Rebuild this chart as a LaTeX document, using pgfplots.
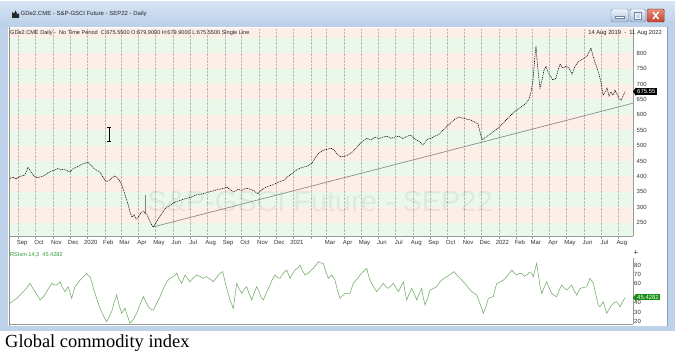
\documentclass[border=0pt]{standalone}
\usepackage{pgfplots}
\pgfplotsset{compat=1.18}
\usepackage{fontspec}
\setmainfont{Liberation Sans}
\newfontfamily\seriffont{Liberation Serif}
\definecolor{bandpink}{RGB}{253,238,232}
\definecolor{bandgreen}{RGB}{234,248,236}
\definecolor{rsigreen}{RGB}{112,172,100}
\definecolor{lblgreen}{RGB}{50,150,50}
\definecolor{boxgreen}{RGB}{20,140,20}
\definecolor{frameblue}{RGB}{190,210,234}
\definecolor{tbtop}{RGB}{214,228,244}
\definecolor{tbbot}{RGB}{186,206,232}
\definecolor{btnbot}{RGB}{168,190,220}
\definecolor{btnedge}{RGB}{110,130,165}
\definecolor{closetop}{RGB}{228,140,118}
\definecolor{closebot}{RGB}{196,68,50}

\begin{document}
\begin{tikzpicture}[x=1bp,y=1bp]
% canvas
\fill[white] (0,0) rectangle (675,354);
% window frame
\fill[frameblue] (0,23) rectangle (675,328);
\fill[white] (8,28.5) rectangle (667,327);
\shade[top color=tbtop, bottom color=tbbot] (0,327) rectangle (675,352);
\draw[black!45, line width=0.5bp] (9,28.5) -- (9,327);
\draw[btnedge!80, line width=0.4bp] (666.8,28.5) -- (666.8,327);
% title icon and text
\fill[black!85] (12,336) -- (12,342) -- (14,340.5) -- (15.5,343.5) -- (17.5,339.5) -- (19,341) -- (19,336) -- cycle;
\node[anchor=west, inner sep=0, font=\fontsize{6}{7}\selectfont, text=black!85] at (20.5,340) {GDe2.CME - S\&P-GSCI Future - SEP22 - Daily};
% window buttons
\shadedraw[top color=white!75!frameblue, bottom color=btnbot, draw=btnedge, rounded corners=1.5bp, line width=0.4bp] (611,332) rectangle (628.5,345);
\draw[white, line width=1.6bp] (615.5,336.5) -- (624,336.5);
\draw[btnedge, line width=0.3bp] (615.5,335.6) rectangle (624,337.4);
\shadedraw[top color=white!75!frameblue, bottom color=btnbot, draw=btnedge, rounded corners=1.5bp, line width=0.4bp] (630,332) rectangle (645.5,345);
\draw[white, line width=1bp] (635,335) rectangle (640.5,341.5);
\draw[btnedge, line width=0.3bp] (634.4,334.4) rectangle (641.1,342.1);
\shadedraw[top color=closetop, bottom color=closebot, draw=closebot!60!black, rounded corners=1.5bp, line width=0.4bp] (647,332) rectangle (664.5,345);
\draw[white, line width=1.4bp] (653,335) -- (658.5,342) (653,342) -- (658.5,335);

% ---------------- main price panel ----------------
\begin{axis}[
  clip=false,
  at={(10bp,118bp)}, anchor=south west, scale only axis,
  width=623bp, height=208bp,
  xmin=10, xmax=633, ymin=206.8, ymax=882.1,
  axis x line*=bottom, axis y line*=right,
  axis line style={draw=gray!80, line width=0.5bp},
  axis on top,
  xtick={18.6,35.5,52.9,69.8,87.3,104.8,121.1,138.5,155.4,172.9,189.8,207.2,224.7,241.6,259.0,275.9,293.4,310.9,326.6,344.1,361.0,378.4,395.3,412.8,430.2,447.1,464.6,481.5,498.9,516.4,532.2,549.6,566.5,584.0,600.9,618.3},
  xticklabels={Sep,Oct,Nov,Dec,2020,Feb,Mar,Apr,May,Jun,Jul,Aug,Sep,Oct,Nov,Dec,2021,{},Mar,Apr,May,Jun,Jul,Aug,Sep,Oct,Nov,Dec,2022,Feb,Mar,Apr,May,Jun,Jul,Aug},
  ytick={250,300,...,800},
  tick style={draw=gray!80, line width=0.4bp}, major tick length=2.5bp, tick align=outside,
  ytick style={draw=none},
  ticklabel style={font=\fontsize{6}{7}\selectfont, text=black!80},
  /pgf/number format/assume math mode=true,
  yticklabel style={anchor=west, inner sep=1bp},
  xticklabel style={anchor=north, xshift=3.5bp, inner sep=1bp, yshift=-0.8bp},
]
% background bands
\fill[bandpink]  (axis cs:10,850) rectangle (axis cs:633,882.1);
\fill[bandgreen] (axis cs:10,800) rectangle (axis cs:633,850);
\fill[bandpink]  (axis cs:10,750) rectangle (axis cs:633,800);
\fill[bandgreen] (axis cs:10,700) rectangle (axis cs:633,750);
\fill[bandpink]  (axis cs:10,650) rectangle (axis cs:633,700);
\fill[bandgreen] (axis cs:10,600) rectangle (axis cs:633,650);
\fill[bandpink]  (axis cs:10,550) rectangle (axis cs:633,600);
\fill[bandgreen] (axis cs:10,500) rectangle (axis cs:633,550);
\fill[bandpink]  (axis cs:10,450) rectangle (axis cs:633,500);
\fill[bandgreen] (axis cs:10,400) rectangle (axis cs:633,450);
\fill[bandpink]  (axis cs:10,350) rectangle (axis cs:633,400);
\fill[bandgreen] (axis cs:10,300) rectangle (axis cs:633,350);
\fill[bandpink]  (axis cs:10,250) rectangle (axis cs:633,300);
\fill[bandgreen] (axis cs:10,206.8) rectangle (axis cs:633,250);
% vertical dotted month grid
\pgfplotsinvokeforeach{18.6,35.5,52.9,69.8,87.3,104.8,121.1,138.5,155.4,172.9,189.8,207.2,224.7,241.6,259.0,275.9,293.4,310.9,326.6,344.1,361.0,378.4,395.3,412.8,430.2,447.1,464.6,481.5,498.9,516.4,532.2,549.6,566.5,584.0,600.9,618.3}{
  \draw[gray!55, densely dotted, line width=0.4bp] (axis cs:#1,206.8) -- (axis cs:#1,882.1);
}
% watermark
\node[text=black, text opacity=0.06, font=\fontsize{29}{30}\selectfont] at (axis cs:320,320) {S\&P-GSCI Future - SEP22};
% trend line
\addplot[gray!90, line width=0.7bp] coordinates {(153,236) (633,638)};
% spike bar
\addplot[gray, line width=0.5bp] coordinates {(145,340) (145,282)};
% price
\addplot[black, line width=0.55bp, dash pattern=on 1bp off 0.8bp] table {
x y
10 394
13 398
16 392
19 399
22 402
25 405
28 430
31 414
34 402
37 396
40 398
43 401
46 407
49 414
52 418
55 421
58 426
61 421
64 424
67 419
70 414
73 425
76 430
79 434
82 440
85 443
88 447
91 436
94 426
97 420
100 414
103 398
106 384
109 386
112 396
115 402
118 393
121 378
124 352
126 330
128 310
130 285
132 268
134 276
136 262
138 266
140 278
143 288
147 276
150 254
153 236
155 244
158 262
161 276
164 290
167 302
170 305
173 313
176 318
180 322
184 327
188 330
192 334
196 340
200 342
204 345
208 349
212 352
216 356
220 359
224 362
227 366
230 357
234 349
238 358
242 355
246 362
250 359
254 353
258 344
261 355
264 362
268 368
272 372
276 378
280 384
284 388
288 400
292 410
296 420
300 427
304 431
308 434
312 444
316 465
320 479
324 486
328 489
331 492
334 486
337 474
340 464
344 465
348 470
352 479
356 492
360 507
364 517
367 524
371 518
375 528
379 523
383 528
387 531
391 524
395 528
399 531
403 523
407 531
411 534
415 521
419 514
423 502
427 520
431 524
435 531
439 537
443 550
447 563
451 575
455 586
459 593
463 589
467 586
471 583
475 576
478 570
482 519
486 528
490 537
494 547
498 557
502 570
506 583
510 596
514 609
518 618
522 628
526 638
529 651
531 674
533 713
535 794
536 823
537 778
538 745
540 687
542 713
544 745
546 758
548 739
550 729
553 713
556 719
558 745
560 765
563 752
566 758
569 752
572 732
575 758
578 771
581 778
584 784
587 791
589 804
591 817
593 791
595 771
597 752
599 732
601 706
603 664
605 674
607 687
609 661
611 674
613 664
615 680
617 667
619 654
621 648
623 661
625 675.55
};
\coordinate (pv) at (axis cs:633,675.55);
\end{axis}
% last value box (price)
\fill[black] (pv) -- ++(3,4.3) -- ++(0,-8.6) -- cycle;
\node[fill=black, text=white, anchor=west, inner xsep=1.5bp, inner ysep=1.2bp, font=\fontsize{6}{7}\selectfont] at ([xshift=2.5bp]pv) {675.55};

% info line
\node[anchor=west, inner sep=0, font=\fontsize{5.6}{6.5}\selectfont, text=black!85] at (10,321) {GDe2.CME Daily -\ \ No Time Period\ \ C:675.5500 O:679.9000 H:679.9000 L:675.5500 Single Line};
\node[anchor=east, inner sep=0, font=\fontsize{5.8}{6.5}\selectfont, text=black!85] at (662,321) {14 Aug 2019\ \ -\ \ 11 Aug 2022};
% text cursor
\draw[black, line width=0.6bp] (109,213) -- (109,227) (107,227) -- (111,227) (107,213) -- (111,213);
% small cross
\draw[gray, line width=0.5bp] (633.5,102) -- (637.5,102) (635.5,100) -- (635.5,104);

% ---------------- RSI panel ----------------
\begin{axis}[
  at={(10bp,30bp)}, anchor=south west, scale only axis,
  width=623bp, height=66bp, clip=false,
  xmin=10, xmax=633, ymin=17.6, ymax=87.4,
  axis x line*=bottom, axis y line*=right,
  axis line style={draw=gray!80, line width=0.5bp},
  xtick=\empty,
  ytick={20,30,40,60,70,80}, ytick style={draw=none},
  ticklabel style={font=\fontsize{6}{7}\selectfont, text=black!80},
  /pgf/number format/assume math mode=true,
  yticklabel style={anchor=west, inner sep=1bp},
]
\addplot[rsigreen, line width=0.55bp] table {
x y
10 39.5
13 42
16.7 44.7
20 48
23 51.8
27 56
30 60.6
33 55
35 51.8
38 47
40 43
43 46
46.7 51.8
49 56
51.7 60.6
54 59
56.7 58.8
60 62.3
62 57
65 51.8
68.3 57
71.7 44.7
73 50
75 57
78 61
80 64
83 67
86.7 71.2
88 69
90 67.6
91.7 62.3
93 57
95 50
97.5 42
100 34.2
103 27
106.7 20
109 25
111.7 30.6
114 40
116.7 48.3
119 38
121.7 28.9
125 34.2
127.5 26
130 18.3
133 22
136.7 28.9
140 38
143.3 46.5
146 41
148.3 35.9
151 33
153.3 32.4
157 40
160 46.5
163 54
166.7 62.3
170 66
173.3 67.6
176.7 71.2
179 65
181.7 60.6
185 69.4
188 65
190 62.3
193 66
196.7 69.4
200 68
203 66
206.7 67.6
210 65
213.3 62.3
216 66
220 71.2
222.7 73
226 58
230 43
233.3 34.2
236.7 60.6
239 55
241.7 50
244 54
246.7 57
249 50
251.7 43
254 50
256.7 57
259 52
261 46
263.3 43
267 52
270 58.8
272 64
275 69.4
277 67
280 66
283 71
286.7 74.7
290 66
292 70
295 74.7
298 77
300 80
303 73
305 69.4
309 72
313.3 76.5
316 80
318.3 83.5
321 82
323.3 81.8
326 72
328.3 66
331.7 69.4
335 64
337 55
340 44.7
342 47
345 50
350 50
353.3 60.6
357 65
360 69.4
363 73
366.7 76.5
368 71
370 64
373 58
376.7 51.8
380 56
383.3 60.6
386 57
388.3 55.3
391 58
393.3 60.6
396 56
398.3 51.8
401 57
403.3 62.3
405 52
406.7 43
409 49
411.7 55.3
414 50
416.7 43
419 49
421.7 55.3
423 47
425 37.7
428 46
430 53.5
433 55
436.7 57
440 62.3
443 65
446.7 67.6
449 69
451.7 71.2
454 73
456.7 69.4
460 66
463.3 62.3
467 58
470 53.5
473 51
476.7 48.3
479 42
481.7 34.2
483.3 28.9
486 36
488.3 44.7
491 46
493.3 46.5
495 54
496.7 60.6
500 62
503.3 64
507 68
511.7 74.7
514 72
516.7 69.4
519 71
521.7 71.2
524 68
526.7 69.4
529 72
531.7 71.2
533.3 67.6
535 75
536.7 81.8
538 72
540 58
541.7 50
544 56
546.7 62.3
549 56
551.7 50
554 48
556.7 46.5
559 53
561.7 58.8
564 56
566.7 53.5
569 56
571.7 58.8
574 53
576.7 48.3
580 55.3
583 56
586.7 57
590 66
593.3 60.6
596 48
598.3 37.7
600 35.9
603.3 41.2
606.7 28.9
609 33
611.7 37.7
614 40
616.7 41.2
620 35.9
622 40
625 45.43
};
\coordinate (rv) at (axis cs:633,45.43);
\end{axis}
\fill[boxgreen] (rv) -- ++(3,4) -- ++(0,-8) -- cycle;
\node[fill=boxgreen, text=white, anchor=west, inner xsep=1.5bp, inner ysep=0.9bp, font=\fontsize{6}{7}\selectfont] at ([xshift=2.5bp,yshift=0.6bp]rv) {45.4282};
\node[anchor=west, inner sep=0, font=\fontsize{5.6}{6.5}\selectfont, text=lblgreen] at (10,99.5) {RSIsm 14,3\ \ 45.4282};

% caption
\node[anchor=base west, inner sep=0, font=\seriffont\fontsize{18.5}{20}\selectfont] at (5,6.5) {Global commodity index};
\end{tikzpicture}
\end{document}
